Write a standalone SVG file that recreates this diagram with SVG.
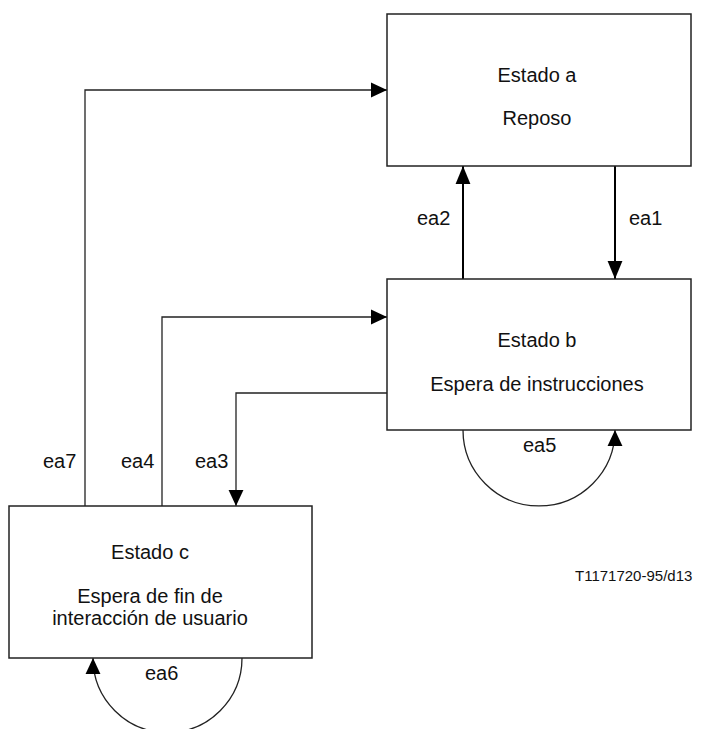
<svg xmlns="http://www.w3.org/2000/svg" width="703" height="729" viewBox="0 0 703 729">
  <style>
    .box { fill: #ffffff; stroke: #222222; stroke-width: 1.5; }
    .lbl { font-family: "Liberation Sans", Arial, sans-serif; font-size: 20px; fill: #111111; }
    .mid { text-anchor: middle; }
    .wire { fill: none; stroke: #222222; stroke-width: 1.3; }
    .bold { fill: none; stroke: #000000; stroke-width: 2; }
  </style>
  <defs>
    <marker id="arr" markerUnits="userSpaceOnUse" markerWidth="16" markerHeight="16" viewBox="0 0 14 14" refX="14" refY="7" orient="auto">
      <path d="M0,0.5 L14,7 L0,13.5 Z" fill="#000000"/>
    </marker>
    <marker id="arrBig" markerUnits="userSpaceOnUse" markerWidth="18" markerHeight="18" viewBox="0 0 17 14" refX="17" refY="7" orient="auto">
      <path d="M0,0 L17,7 L0,14 Z" fill="#000000"/>
    </marker>
  </defs>

  <rect width="703" height="729" fill="#ffffff"/>

  <g id="connectors">
    <path id="ea1" class="bold" d="M615,166 V279" marker-end="url(#arrBig)"/>
    <path id="ea2" class="bold" d="M463,279 V166" marker-end="url(#arrBig)"/>
    <path id="ea7" class="wire" d="M85,506 V90 H387" marker-end="url(#arr)"/>
    <path id="ea4" class="wire" d="M162,506 V317 H387" marker-end="url(#arr)"/>
    <path id="ea3" class="wire" d="M387,393 H236 V506" marker-end="url(#arr)"/>
    <path id="ea5" class="wire" d="M463,430 A76,76 0 0 0 615,430" marker-end="url(#arr)"/>
    <path id="ea6" class="wire" d="M242,658 A74.5,74.5 0 0 1 93,658" marker-end="url(#arr)"/>

    <text class="lbl" x="417" y="225">ea2</text>
    <text class="lbl" x="629" y="225">ea1</text>
    <text class="lbl" x="43" y="468">ea7</text>
    <text class="lbl" x="121" y="468">ea4</text>
    <text class="lbl" x="195" y="468">ea3</text>
    <text class="lbl" x="523" y="452">ea5</text>
    <text class="lbl" x="145" y="680">ea6</text>
  </g>

  <g id="estado-a">
    <rect class="box" x="387" y="14" width="304" height="152"/>
    <text class="lbl mid" x="537" y="82">Estado a</text>
    <text class="lbl mid" x="537" y="125">Reposo</text>
  </g>

  <g id="estado-b">
    <rect class="box" x="387" y="279" width="304" height="151"/>
    <text class="lbl mid" x="537" y="347">Estado b</text>
    <text class="lbl mid" x="537" y="391">Espera de instrucciones</text>
  </g>

  <g id="estado-c">
    <rect class="box" x="9" y="506" width="303" height="152"/>
    <text class="lbl mid" x="150" y="559">Estado c</text>
    <text class="lbl mid" x="150" y="603">Espera de fin de</text>
    <text class="lbl mid" x="150" y="625">interacción de usuario</text>
  </g>

  <text id="ref" x="575" y="581" font-family="'Liberation Sans', Arial, sans-serif" font-size="15" fill="#111111">T1171720-95/d13</text>
</svg>
